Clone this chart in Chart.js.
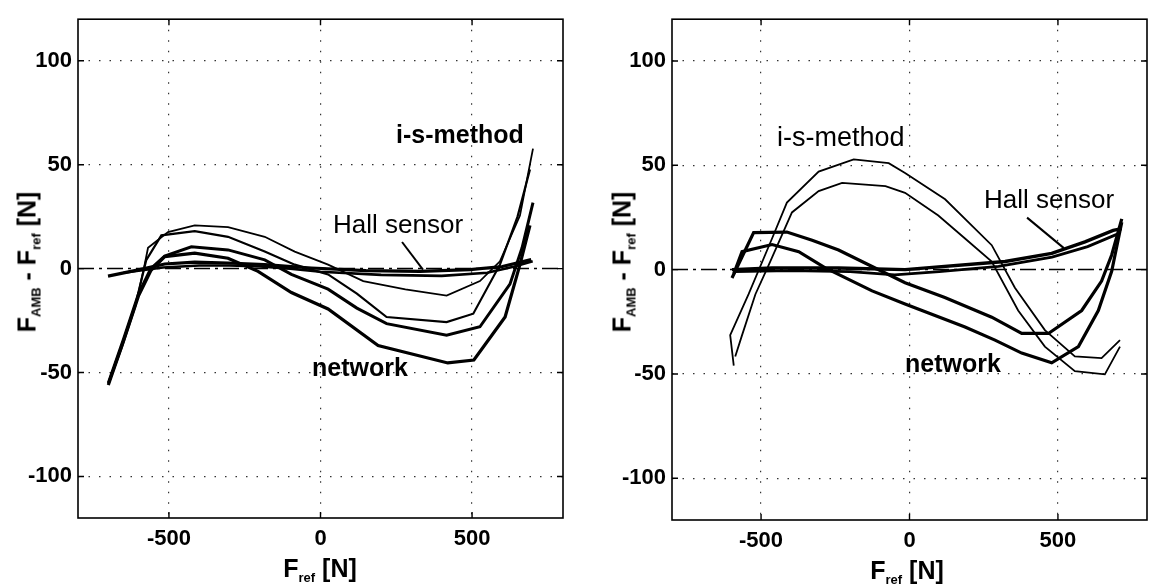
<!DOCTYPE html>
<html>
<head>
<meta charset="utf-8">
<script src="https://cdn.jsdelivr.net/npm/chart.js@4.4.1/dist/chart.umd.min.js"></script>
<style>
  html, body { margin: 0; padding: 0; background: #fff; }
  #wrap { position: relative; width: 1151px; height: 586px; overflow: hidden; font-family: "Liberation Sans", Arial, sans-serif; color: #000; }
  canvas { position: absolute; top: 0; }
  #chart-left { left: 0; }
  #chart-right { left: 575px; }
  .lbl { position: absolute; white-space: nowrap; line-height: 1; transform: translateY(-50%); }
  .b { font-weight: bold; }
  .ttl { position: absolute; font-weight: bold; font-size: 25px; white-space: nowrap; line-height: 1; transform: translate(-50%, -50%); }
  .ttl.v { transform: translate(-50%, -50%) rotate(-90deg); }
  .ttl sub { font-size: 13px; vertical-align: baseline; position: relative; top: 5px; }
</style>
</head>
<body>
<div id="wrap">
  <canvas id="chart-left" width="575" height="586"></canvas>
  <canvas id="chart-right" width="576" height="586"></canvas>

  <div class="ttl v" style="left:27px;top:262px">F<sub>AMB</sub> - F<sub>ref</sub> [N]</div>
  <div class="ttl" style="left:320px;top:568px">F<sub>ref</sub> [N]</div>
  <div class="ttl v" style="left:622px;top:262px">F<sub>AMB</sub> - F<sub>ref</sub> [N]</div>
  <div class="ttl" style="left:907px;top:570px">F<sub>ref</sub> [N]</div>

  <div class="lbl b" style="left:396px;top:134px;font-size:25px">i-s-method</div>
  <div class="lbl" style="left:333px;top:224px;font-size:26px">Hall sensor</div>
  <div class="lbl b" style="left:312px;top:367px;font-size:25px">network</div>

  <div class="lbl" style="left:777px;top:137px;font-size:27px">i-s-method</div>
  <div class="lbl" style="left:984px;top:199px;font-size:26px">Hall sensor</div>
  <div class="lbl b" style="left:905px;top:363px;font-size:25px">network</div>
</div>

<script>
/* ---- axes ---- */
const xTicks = [-500, 0, 500];
const yTicks = [-100, -50, 0, 50, 100];
const xRange = [-800, 800];
const yRange = [-120, 120];
const zeroLineX = [-800, 800];
const zeroLineY = [0, 0];

/* ---- left plot ---- */
const leftIs1X = [-700, -655, -610, -580, -569, -503, -415, -305, -184, -85, 25, 141, 280, 416, 526, 592, 658, 701];
const leftIs1Y = [-56, -38, -18, 2, 10, 17.6, 20.8, 20, 15.3, 8.2, 1.9, -6, -10, -13, -6, 3.5, 25.5, 57.7];
const leftIs2X = [-700, -655, -610, -575, -525, -415, -305, -184, -85, 25, 120, 218, 416, 504, 592, 650, 691];
const leftIs2Y = [-55, -37, -17, 4, 16, 18, 15.3, 8.2, 1.9, -2.8, -12, -23.3, -25.7, -21.7, 1.9, 25, 47.7];
const leftNet1X = [-700, -650, -600, -560, -514, -426, -305, -184, -96, 25, 120, 218, 416, 526, 625, 665, 701];
const leftNet1Y = [-55, -34, -12, 0, 6, 10.5, 9, 4.2, -2.8, -9.9, -19, -26.5, -32, -28, -7.5, 10, 31.7];
const leftNet2X = [-700, -650, -600, -560, -514, -415, -305, -206, -96, 25, 190, 420, 506, 609, 658, 691];
const leftNet2Y = [-56, -35, -13, -1, 5.8, 7.4, 5, -1.3, -11.5, -19.4, -37, -45.4, -44, -23.3, 1.9, 20.8];
const leftHall1X = [-701, -597, -514, -415, -305, -184, -30, 150, 328, 493, 600, 695];
const leftHall1Y = [-3.6, -0.5, 2.2, 3.1, 2.7, 1.9, 0.3, -1, -1.3, -0.5, 1, 4.3];
const leftHall2X = [-650, -520, -400, -300, -200, -100, 0, 200, 400, 550, 640, 700];
const leftHall2Y = [-2, 0.5, 1.5, 1.5, 1, 0, -1.5, -3, -3.5, -2, 1, 3.5];
const leftLeaderX = [269, 338];
const leftLeaderY = [12.8, -0.5];

/* ---- right plot ---- */
const rightIs1X = [-592, -604, -542, -463, -413, -306, -188, -70, -15, 120, 277, 355, 456, 557, 647, 709];
const rightIs1Y = [-46, -31.4, -11.8, 14.9, 32.1, 47, 52.8, 51, 46.3, 33.7, 11.7, -8.7, -29, -41.6, -42.4, -33.8];
const rightIs2X = [-587, -564, -519, -474, -396, -306, -227, -81, -15, 97, 187, 277, 366, 456, 557, 658, 709];
const rightIs2Y = [-41.6, -31.4, -11.8, 2.3, 27.4, 37.6, 41.6, 40, 36.8, 25.9, 14.9, 3.9, -19.6, -36.9, -48.7, -50.2, -36.9];
const rightNet1X = [-598, -525, -413, -328, -239, -126, -15, 119, 277, 378, 468, 580, 647, 681, 715];
const rightNet1Y = [-4, 17.7, 18, 14.1, 9.4, 1.5, -6.3, -13.4, -22.8, -30.6, -30.6, -19.6, -5.5, 7, 24.3];
const rightNet2X = [-592, -564, -463, -373, -284, -126, -15, 187, 288, 378, 479, 569, 636, 681, 715];
const rightNet2Y = [-2, 8.6, 12, 8.6, 0.8, -10.2, -16.5, -27.5, -33.8, -40, -44.7, -36.9, -19.6, -0.8, 22.7];
const rightHall1X = [-598, -463, -239, -15, 322, 479, 591, 686, 715];
const rightHall1Y = [0, 0.8, 0.8, 0, 3.9, 7.8, 13.3, 18.8, 19.6];
const rightHall2X = [-590, -400, -200, -50, 100, 300, 480, 600, 700];
const rightHall2Y = [-1, -0.5, -1, -2.5, -1, 1.5, 6, 11, 17];
const rightLeaderX = [396, 520];
const rightLeaderY = [24.9, 10.3];

Chart.defaults.font.family = '"Liberation Sans", Arial, sans-serif';
Chart.defaults.color = '#000';

const pts = (xs, ys) => xs.map((x, i) => ({ x: x, y: ys[i] }));

function curve(xs, ys, width, dash) {
    return {
        data: pts(xs, ys),
        showLine: true,
        borderColor: '#000',
        borderWidth: width,
        borderDash: dash || [],
        pointRadius: 0,
        tension: 0,
        fill: false,
    };
}

// box round the plot area, with short inward ticks (matlab style)
const framePlugin = {
    id: 'frame',
    afterDraw(chart) {
        const { ctx, chartArea: a, scales } = chart;
        ctx.save();
        ctx.strokeStyle = '#000';
        ctx.lineWidth = 1.6;
        ctx.strokeRect(a.left, a.top, a.right - a.left, a.bottom - a.top);
        ctx.lineWidth = 1.4;
        ctx.beginPath();
        xTicks.forEach(v => {
            const px = scales.x.getPixelForValue(v);
            ctx.moveTo(px, a.bottom); ctx.lineTo(px, a.bottom - 6);
            ctx.moveTo(px, a.top); ctx.lineTo(px, a.top + 6);
        });
        yTicks.forEach(v => {
            const py = scales.y.getPixelForValue(v);
            ctx.moveTo(a.left, py); ctx.lineTo(a.left + 6, py);
            ctx.moveTo(a.right, py); ctx.lineTo(a.right - 6, py);
        });
        ctx.stroke();
        ctx.restore();
    }
};

function makeChart(id, datasets, yWidth, xHeight, padRight) {
    return new Chart(document.getElementById(id), {
        type: 'scatter',
        data: { datasets: datasets },
        options: {
            responsive: false,
            animation: false,
            layout: { padding: { top: 10, right: padRight, left: 0, bottom: 0 } },
            plugins: { legend: { display: false }, tooltip: { enabled: false } },
            scales: {
                x: {
                    type: 'linear',
                    min: xRange[0], max: xRange[1],
                    afterBuildTicks: s => { s.ticks = xTicks.map(v => ({ value: v })); },
                    afterFit: s => { s.height = xHeight; },
                    ticks: { font: { size: 22, weight: 'bold' }, color: '#000', padding: 8, maxRotation: 0 },
                    grid: { color: '#333', lineWidth: 1.2, drawTicks: false },
                    border: { display: false, dash: [1.5, 9] },
                },
                y: {
                    type: 'linear',
                    min: yRange[0], max: yRange[1],
                    afterBuildTicks: s => { s.ticks = yTicks.map(v => ({ value: v })); },
                    afterFit: s => { s.width = yWidth; },
                    ticks: { font: { size: 22, weight: 'bold' }, color: '#000', padding: 6 },
                    grid: {
                        color: c => (c.tick && c.tick.value === 0 ? 'rgba(0,0,0,0)' : '#333'),
                        lineWidth: 1.2, drawTicks: false
                    },
                    border: { display: false, dash: [1.5, 9] },
                }
            }
        },
        plugins: [framePlugin]
    });
}

makeChart('chart-left', [
    curve(zeroLineX, zeroLineY, 1.5, [16, 5, 3, 5]),
    curve(leftIs1X, leftIs1Y, 1.8),
    curve(leftIs2X, leftIs2Y, 2.2),
    curve(leftNet1X, leftNet1Y, 3),
    curve(leftNet2X, leftNet2Y, 3.2),
    curve(leftHall1X, leftHall1Y, 3.2),
    curve(leftHall2X, leftHall2Y, 2.6),
    curve(leftLeaderX, leftLeaderY, 2),
], 78, 68, 12);

makeChart('chart-right', [
    curve(zeroLineX, zeroLineY, 1.5, [16, 5, 3, 5]),
    curve(rightIs1X, rightIs1Y, 1.8),
    curve(rightIs2X, rightIs2Y, 1.8),
    curve(rightNet1X, rightNet1Y, 3.2),
    curve(rightNet2X, rightNet2Y, 3.2),
    curve(rightHall1X, rightHall1Y, 3.4),
    curve(rightHall2X, rightHall2Y, 2.8),
    curve(rightLeaderX, rightLeaderY, 2),
], 97, 66, 4);
</script>
</body>
</html>
